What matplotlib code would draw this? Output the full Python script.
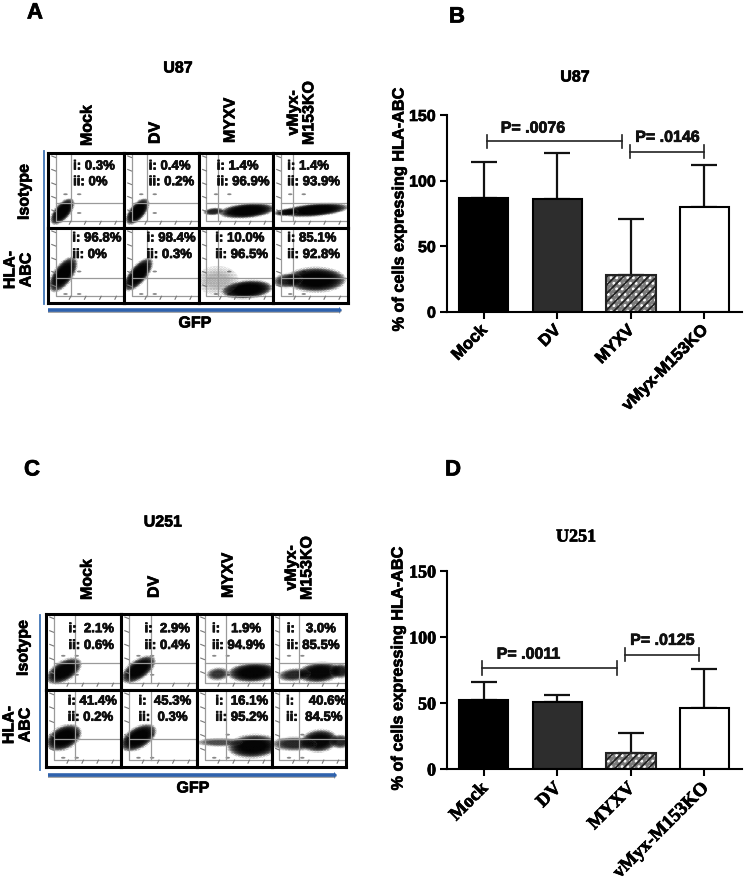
import numpy as np
import matplotlib
matplotlib.use('Agg')
import matplotlib.pyplot as plt
import matplotlib.patheffects as pe
from matplotlib.patches import Ellipse, FancyArrow
from matplotlib.text import Text
from matplotlib.transforms import ScaledTranslation

W, H = 746, 881

# bar chart data
groups = ['Mock', 'DV', 'MYXV', 'vMyx-M153KO']
u87_means = [87, 86, 28, 79.5]
u87_tops = [114, 121, 71, 112]
u251_means = [52, 51, 12.5, 46]
u251_tops = [66, 56, 27, 76]

u87_p_labels = ['P= .0076', 'P= .0146']
u87_p_left = [0.04, 1.99]
u87_p_right = [1.875, 2.99]
u87_p_y = [130, 122]
u87_p_text_x = [0.67, 2.5]
u87_p_text_y = [140, 133]

u251_p_labels = ['P= .0011', 'P= .0125']
u251_p_left = [-0.03, 1.92]
u251_p_right = [1.81, 2.92]
u251_p_y = [76.5, 86.5]
u251_p_text_x = [0.61, 2.43]
u251_p_text_y = [87, 97.5]

# flow panel text, row by row
col_names = ['Mock', 'DV', 'MYXV', 'vMyx-\nM153KO']
u87_i = ['i: 0.3%', 'i: 0.4%', 'i: 1.4%', 'i: 1.4%',
         'i: 96.8%', 'i: 98.4%', 'i: 10.0%', 'i: 85.1%']
u87_ii = ['ii: 0%', 'ii: 0.2%', 'ii: 96.9%', 'ii: 93.9%',
          'ii: 0%', 'ii: 0.3%', 'ii: 96.5%', 'ii: 92.8%']
u251_i = ['i:  2.1%', 'i:  2.9%', 'i:   1.9%', 'i:   3.0%',
          'i: 41.4%', 'i:  45.3%', 'i:  16.1%', 'i:    40.6%']
u251_ii = ['ii: 0.6%', 'ii: 0.4%', 'ii: 94.9%', 'ii: 85.5%',
           'ii: 0.2%', 'ii:  0.3%', 'ii: 95.2%', 'ii:  84.5%']

# dot clouds of each cell: x, y, long side, short side, angle, darkness
u87_clouds = [
    [(.19, .22, .36, .17, 50, 1)],
    [(.18, .22, .36, .17, 50, 1)],
    [(.65, .23, .64, .16, 5, 1), (.20, .22, .24, .08, 5, .5)],
    [(.56, .24, .76, .14, 5, 1), (.18, .21, .28, .08, 5, .6)],
    [(.20, .38, .46, .21, 55, 1)],
    [(.19, .38, .46, .19, 50, 1)],
    [(.65, .18, .58, .20, 5, 1), (.25, .30, .48, .30, 0, .06)],
    [(.57, .31, .68, .27, 0, 1), (.20, .30, .34, .16, 5, .5)],
]
u251_clouds = [
    [(.24, .25, .44, .22, 30, .9)],
    [(.23, .27, .44, .21, 35, .9)],
    [(.75, .23, .58, .21, 3, .9), (.28, .21, .26, .14, 5, .4)],
    [(.64, .23, .50, .22, 5, .85), (.92, .25, .24, .16, 0, .5), (.30, .20, .38, .14, 5, .45)],
    [(.24, .38, .42, .25, 25, 1)],
    [(.23, .38, .44, .23, 30, 1)],
    [(.75, .27, .58, .25, 3, .9), (.30, .32, .52, .09, 0, .3)],
    [(.64, .34, .42, .24, 5, .85), (.30, .30, .52, .15, 0, .45), (.92, .33, .24, .15, 0, .45)],
]

plt.rcParams['font.family'] = ['Liberation Sans', 'DejaVu Sans']
plt.rcParams['font.weight'] = 'bold'
plt.rcParams['hatch.linewidth'] = 1.3

fig = plt.figure(figsize=(W / 100, H / 100), dpi=100)


def px_axes(left, top, right, bottom, **kw):
    return fig.add_axes([left / W, 1 - bottom / H, (right - left) / W, (bottom - top) / H], **kw)


page = px_axes(0, 0, W, H)
page.set_xlim(0, W)
page.set_ylim(H, 0)
page.axis('off')


def draw_cell(ax, clouds, label_i, label_ii, label_x, label_y, gate_x, gate_y, lower):
    ax.set_xlim(0, 1)
    ax.set_ylim(0, 1)
    ax.set_xticks([])
    ax.set_yticks([])
    for sp in ax.spines.values():
        sp.set_linewidth(2.2)
        sp.set_color('black')

    gray = '#9a9a9a'
    ax.plot([.1, .1, 1], [1, .09, .09], color=gray, lw=0.9)
    ax.plot([gate_x, gate_x], [.09, 1], color=gray, lw=0.9)
    ax.plot([.1, .98], [gate_y, gate_y], color=gray, lw=0.9)
    for y in [.22, .4, .58, .76, .94]:
        ax.plot([.05, .1], [y + .02, y], color='#777777', lw=0.8)
    for x in [.3, .5, .7, .9]:
        ax.plot([x, x - .02], [.09, .05], color='#777777', lw=0.8)

    dots = [(.41, .2), (.23, .45), (.41, .45)]
    if lower:
        dots = [(.23, .12), (.41, .12), (.41, .42)]
    for x, y in dots:
        ax.add_patch(Ellipse((x, y), .06, .025, fc='#888888', ec='none'))

    for x, y, long_side, short_side, angle, dark in clouds:
        # speckled rim, then a soft solid core
        ax.add_patch(Ellipse((x, y), long_side * 1.2, short_side * 1.3, angle=angle,
                             fc='none', ec='#666666', hatch='......', lw=0, alpha=.3 + .3 * dark))
        for s in np.linspace(1.15, 0.55, 14):
            ax.add_patch(Ellipse((x, y), long_side * s, short_side * s, angle=angle,
                                 fc='black', ec='none', alpha=.24 * dark))

    ax.text(label_x, label_y[0], label_i, fontsize=9.5, va='center', ha='left', color='#111111')
    ax.text(label_x, label_y[1], label_ii, fontsize=9.5, va='center', ha='left', color='#111111')


def flow_panel(xs, ys, clouds, labels_i, labels_ii, label_xs, label_ys, gates_x, gate_y):
    for r in range(2):
        for c in range(4):
            k = r * 4 + c
            ax = px_axes(xs[c], ys[r], xs[c + 1], ys[r + 1])
            draw_cell(ax, clouds[k], labels_i[k], labels_ii[k], label_xs[k], label_ys[r],
                      gates_x[c], gate_y, r == 1)


flow_panel([48, 124, 199, 273, 348], [153, 228, 303], u87_clouds, u87_i, u87_ii,
           [.33, .33, .24, .19, .32, .30, .22, .19], [(.82, .61), (.86, .64)],
           [.30, .30, .26, .27], .33)
flow_panel([46, 121, 197, 272, 346], [614, 690, 767], u251_clouds, u251_i, u251_ii,
           [.30, .31, .20, .20, .29, .23, .245, .19], [(.80, .58), (.85, .64)],
           [.39, .39, .38, .37], .36)


def flow_labels(title_xy, col_xs, col_bottoms, iso_xy, hla_xy, gfp_xy, line_x, line_ys, arrow_xs, arrow_y):
    page.text(title_xy[0], title_xy[1], title_xy[2], fontsize=11.5, ha='center', va='center')
    for x, b, name in zip(col_xs, col_bottoms, col_names):
        page.text(x, b, name, fontsize=11.5, rotation=90, ha='center', va='bottom', multialignment='center', linespacing=1.05)
    page.text(iso_xy[0], iso_xy[1], 'Isotype', fontsize=11.5, rotation=90, ha='center', va='center')
    page.text(hla_xy[0], hla_xy[1], 'HLA-\nABC', fontsize=11.5, rotation=90, ha='center', va='center',
              multialignment='center', linespacing=1.1)
    page.text(gfp_xy[0], gfp_xy[1], 'GFP', fontsize=11.5, ha='center', va='center')
    page.plot([line_x, line_x], line_ys, color='#3f74b5', lw=1.3)
    page.add_patch(FancyArrow(arrow_xs[0], arrow_y + 1, arrow_xs[1] - arrow_xs[0], 0, width=4, head_width=6,
                              head_length=3, length_includes_head=True, fc='#a9a9a9', ec='none'))
    page.add_patch(FancyArrow(arrow_xs[0], arrow_y, arrow_xs[1] - arrow_xs[0], 0, width=3.6, head_width=6,
                              head_length=3, length_includes_head=True, fc='#2f62ad', ec='none'))


flow_labels((178, 68, 'U87'), [87, 155, 230, 301], [146, 144, 143, 145], (24, 192), (18, 270), (195, 323),
            44, [151, 304], [48, 342], 310)
flow_labels((163, 522, 'U251'), [87, 154, 228, 299], [600, 598, 598, 600], (23, 648), (17, 725), (193, 788),
            40, [615, 770], [48, 337], 775)


def bar_panel(box, means, tops, p_labels, p_left, p_right, p_y, p_text_x, p_text_y, serif):
    ax = px_axes(*box)
    x = np.arange(len(groups))
    width = 0.67
    kw = dict(width=width, linewidth=1.5, zorder=2)
    ax.bar(x[0], means[0], color='black', edgecolor='black', **kw)
    ax.bar(x[1], means[1], color='#2d2d2d', edgecolor='black', **kw)
    ax.bar(x[2], means[2], color='#7c7c7c', edgecolor='white', hatch='...', width=width, linewidth=0, zorder=2)
    ax.bar(x[2], means[2], color='none', edgecolor='#222222', hatch='////', **kw)
    ax.bar(x[3], means[3], color='white', edgecolor='black', **kw)

    up = np.array(tops) - np.array(means)
    ax.errorbar(x, means, yerr=[np.zeros(len(up)), up], fmt='none', ecolor='#111111',
                elinewidth=1.6, capsize=9.5, capthick=1.6, zorder=1)

    for lab, a, b, y, tx, ty in zip(p_labels, p_left, p_right, p_y, p_text_x, p_text_y):
        ax.plot([a, b], [y, y], color='#222222', lw=1.2, clip_on=False)
        ax.plot([a, a], [y - 5, y + 5], color='#222222', lw=1.2, clip_on=False)
        ax.plot([b, b], [y - 5, y + 5], color='#222222', lw=1.2, clip_on=False)
        ax.text(tx, ty, lab, fontsize=11.5, ha='center', va='center', color='#111111')

    family = ['Liberation Serif', 'DejaVu Serif'] if serif else ['Liberation Sans', 'DejaVu Sans']
    size_y = 13 if serif else 11.5
    size_x = 13.5 if serif else 12
    ax.set_xlim(-0.5, 3.51)
    ax.set_ylim(0, 150)
    ax.set_yticks([0, 50, 100, 150])
    ax.set_yticklabels(['0', '50', '100', '150'], fontsize=size_y, family=family)
    ax.set_xticks(x)
    ax.set_xticklabels(groups, fontsize=size_x, family=family, rotation=45, ha='right', rotation_mode='anchor')
    ax.tick_params(axis='both', width=1.5, length=5, pad=3)
    ax.tick_params(axis='x', pad=6)
    shift = ScaledTranslation(-0.045, 0.045, fig.dpi_scale_trans)
    for lab in ax.get_xticklabels():
        lab.set_transform(lab.get_transform() + shift)
    for side in ['top', 'right']:
        ax.spines[side].set_visible(False)
    for side in ['left', 'bottom']:
        ax.spines[side].set_linewidth(1.5)
    return ax


bar_panel((447, 115, 742, 311.7), u87_means, u87_tops, u87_p_labels, u87_p_left, u87_p_right, u87_p_y,
          u87_p_text_x, u87_p_text_y, False)
bar_panel((447, 571, 742, 769), u251_means, u251_tops, u251_p_labels, u251_p_left, u251_p_right, u251_p_y,
          u251_p_text_x, u251_p_text_y, True)

page.text(399, 210, '% of cells expressing HLA-ABC', fontsize=11.7, rotation=90, ha='center', va='center')
page.text(398, 669, '% of cells expressing HLA-ABC', fontsize=11.7, rotation=90, ha='center', va='center')
page.text(575, 77, 'U87', fontsize=11.5, ha='center', va='center')
page.text(576, 537, 'U251', fontsize=13, ha='center', va='center', family=['Liberation Serif', 'DejaVu Serif'])

for letter, x, y in [('A', 35, 13), ('B', 457, 17), ('C', 32, 470), ('D', 453, 470)]:
    page.text(x, y, letter, fontsize=16, ha='center', va='center')

# the reference text is heavier than plain bold
for t in fig.findobj(Text):
    t.set_path_effects([pe.withStroke(linewidth=0.5, foreground='black')])

fig.savefig('out.png', dpi=100)
